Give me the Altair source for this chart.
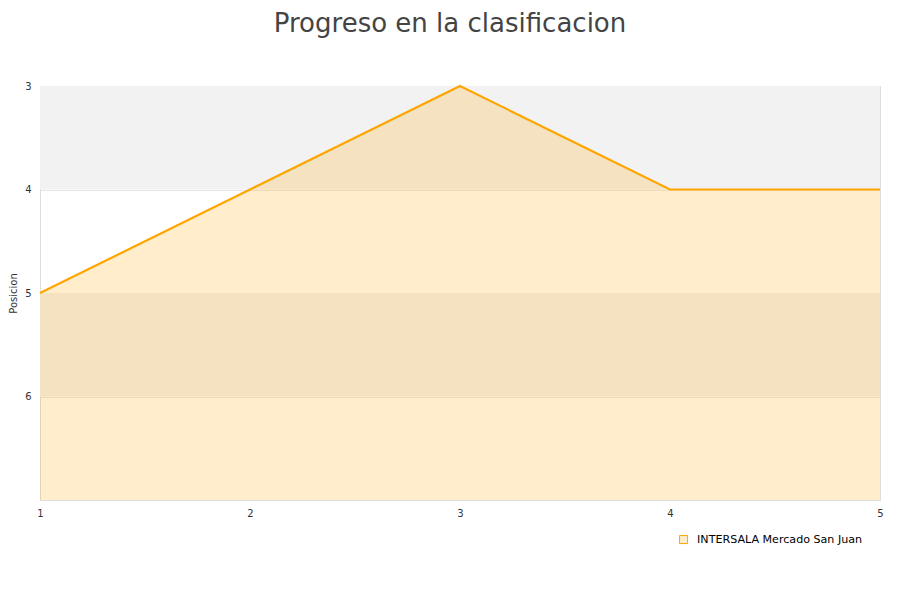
import altair as alt
import pandas as pd

jornadas = [1, 2, 3, 4, 5]
posiciones = [5, 4, 3, 4, 4]
serie = "INTERSALA Mercado San Juan"

band_start = [3, 5]
band_end = [4, 6]

df = pd.DataFrame({"jornada": jornadas, "pos": posiciones, "equipo": [serie] * len(jornadas)})
bands = pd.DataFrame({"y1": band_start, "y2": band_end})

xscale = alt.Scale(domain=[1, 5], nice=False, zero=False)
yscale = alt.Scale(domain=[3, 7], reverse=True, nice=False, zero=False)

band_layer = alt.Chart(bands).mark_rect(color="#f2f2f2").encode(
    x=alt.value(0), x2=alt.value(840),
    y=alt.Y("y1:Q", scale=yscale), y2="y2:Q",
)

area = alt.Chart(df).mark_area(opacity=0.2, color="#ffa500").encode(
    x=alt.X("jornada:Q", scale=xscale,
            axis=alt.Axis(values=jornadas, format="d", title=None, grid=False,
                          ticks=False, domain=False, labelPadding=8, labelFlush=False,
                          labelFontSize=10, labelColor="#333")),
    y=alt.Y("pos:Q", scale=yscale,
            axis=alt.Axis(values=[3, 4, 5, 6], format="d", title="Posicion",
                          grid=True, gridColor="#e6e6e6", ticks=False, domain=False,
                          labelPadding=9, labelFontSize=10, labelColor="#333",
                          titleFontSize=10, titleFontWeight="normal", titleColor="#333",
                          titlePadding=6)),
    y2=alt.datum(7),
)

line = alt.Chart(df).mark_line(strokeWidth=2.2).encode(
    x=alt.X("jornada:Q", scale=xscale),
    y=alt.Y("pos:Q", scale=yscale),
    color=alt.Color("equipo:N", scale=alt.Scale(range=["#ffa500"]),
                    legend=alt.Legend(title=None, orient="none", legendX=638, legendY=448,
                                      symbolType="square", symbolSize=64, labelLimit=0,
                                      symbolFillColor="#ffedcc", symbolStrokeWidth=1,
                                      labelOffset=8, labelFontSize=11.1, labelColor="#000")),
)

chart = alt.layer(band_layer, area, line).properties(
    width=840, height=414,
    title=alt.TitleParams("Progreso en la clasificacion", fontSize=26, fontWeight="normal",
                          color="#444", font="DejaVu Sans", anchor="middle", offset=44, dx=-10),
    autosize=alt.AutoSizeParams(type="none"),
    padding={"left": 32, "top": 78, "right": 12, "bottom": 80},
).configure_view(stroke="#dddddd", strokeWidth=1).configure(font="DejaVu Sans")

chart.save("out.html", embed_options={"renderer": "svg", "actions": False})
